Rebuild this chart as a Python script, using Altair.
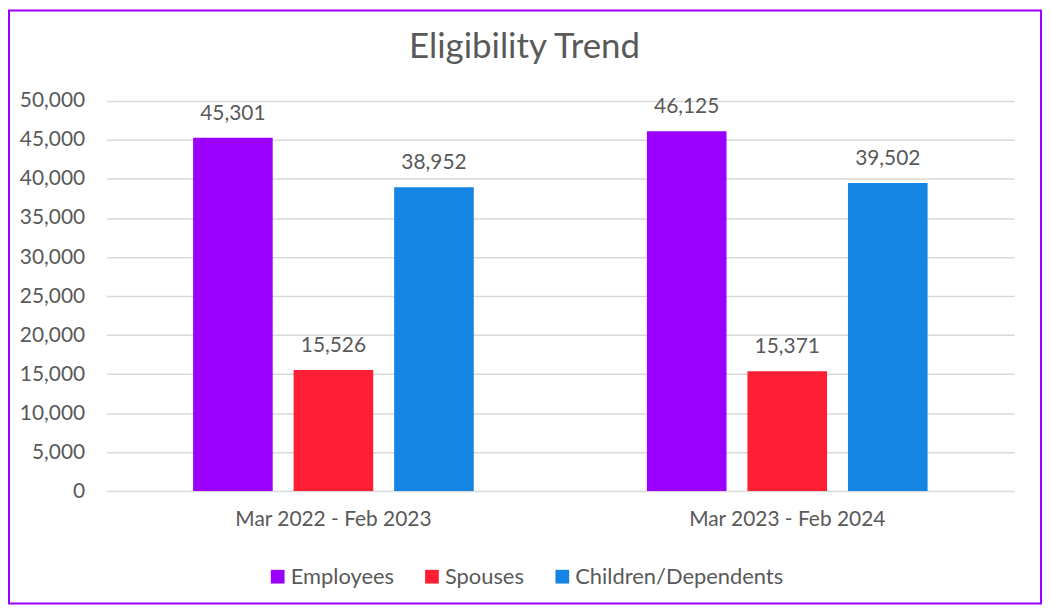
import altair as alt
import pandas as pd

periods = ["Mar 2022 - Feb 2023", "Mar 2023 - Feb 2024"]
series = ["Employees", "Spouses", "Children/Dependents"]
employees = [45301, 46125]
spouses = [15526, 15371]
children = [38952, 39502]
colors = ["#9B00FF", "#FF1F35", "#1585E3"]
y_ticks = list(range(0, 50001, 5000))

rows = []
for i, p in enumerate(periods):
    for s, vals in zip(series, [employees, spouses, children]):
        rows.append({"period": p, "series": s, "value": vals[i]})
df = pd.DataFrame(rows)

FONT = "Lato"
GRAY = "#595959"

x_enc = alt.X("period:N", sort=periods, title=None,
              scale=alt.Scale(paddingInner=0, paddingOuter=0),
              axis=alt.Axis(labelAngle=0, labelFontSize=21, labelColor=GRAY, labelLimit=0,
                            labelPadding=18, ticks=False, domain=False, grid=False))
xoff = alt.XOffset("series:N", sort=series,
                   scale=alt.Scale(paddingInner=0.208, paddingOuter=0.861))
y_enc = alt.Y("value:Q", title=None,
              scale=alt.Scale(domain=[0, 50000], nice=False),
              axis=alt.Axis(values=y_ticks, format=",.0f", labelFontSize=21, labelColor=GRAY,
                            labelPadding=22, ticks=False, domain=False,
                            gridColor="#D9D9D9", gridWidth=1.5))

base = alt.Chart(df)
bars = base.mark_bar().encode(
    x=x_enc, xOffset=xoff, y=y_enc,
    color=alt.Color("series:N", sort=series, title=None,
                    scale=alt.Scale(domain=series, range=colors),
                    legend=alt.Legend(orient="none", direction="horizontal",
                                      legendX=161, legendY=467,
                                      symbolType="square", symbolSize=190,
                                      symbolStrokeWidth=0, labelFontSize=22,
                                      labelColor=GRAY, labelOffset=2, labelLimit=400,
                                      columnPadding=27, labelFont=FONT)),
)
labels = base.mark_text(baseline="alphabetic", dy=-18, fontSize=21, color=GRAY, font=FONT).encode(
    x=x_enc, xOffset=xoff, y=y_enc, text=alt.Text("value:Q", format=",.0f")
)
border = alt.Chart(pd.DataFrame({"a": [0]})).mark_rect(
    filled=False, stroke="#9B00FF", strokeWidth=2
).encode(x=alt.value(-98), x2=alt.value(939), y=alt.value(-91), y2=alt.value(505))

chart = alt.layer(bars, labels, border).properties(
    width=912, height=392,
    title=alt.TitleParams("Eligibility Trend", fontSize=35, font=FONT, fontWeight="normal",
                          color=GRAY, anchor="middle", dx=-36, offset=-56),
    padding={"left": 99, "top": 92, "right": 29, "bottom": 114},
    autosize=alt.AutoSizeParams(type="none"),
).configure_view(stroke=None).configure_axis(labelFont=FONT)

chart.save("out.html", embed_options={"renderer": "svg", "actions": False})
